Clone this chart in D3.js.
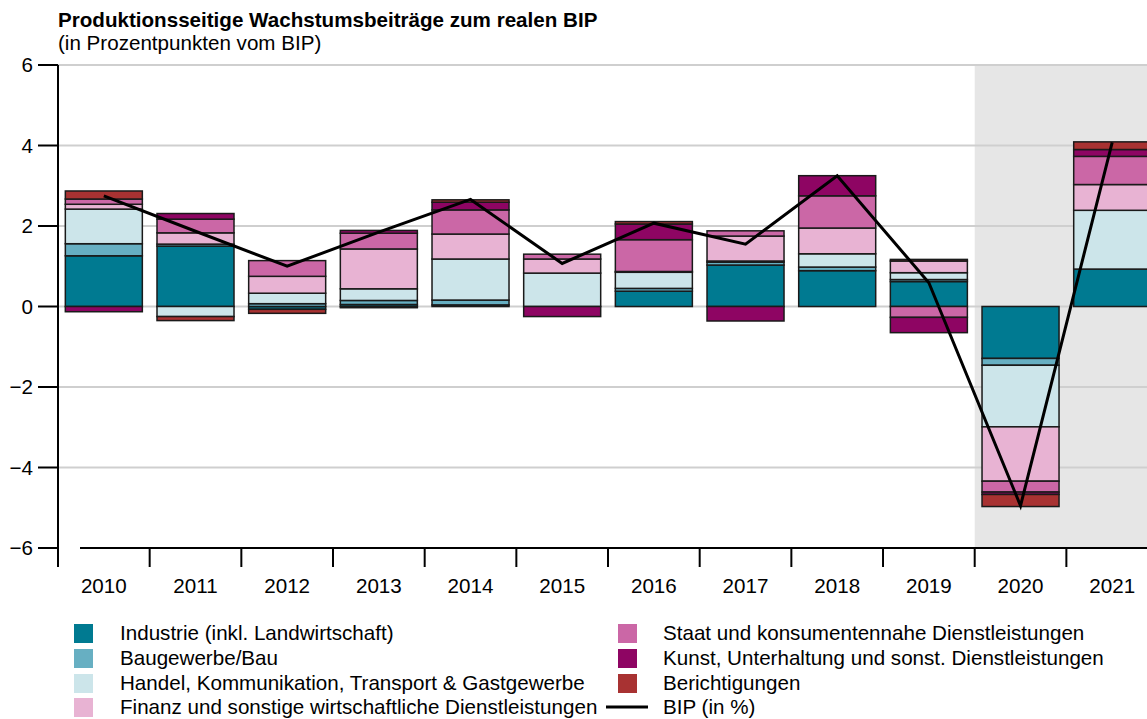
<!DOCTYPE html>
<html>
<head>
<meta charset="utf-8">
<script src="https://cdn.jsdelivr.net/npm/d3@7"></script>
<style>
  body { margin: 0; background: #fff; }
  svg { display: block; font-family: "Liberation Sans", Arial, sans-serif; }
</style>
</head>
<body>
<svg id="chart" width="1147" height="719"></svg>
<script>
const years = ["2010", "2011", "2012", "2013", "2014", "2015", "2016", "2017", "2018", "2019", "2020", "2021"];

const industrie = [1.26, 1.50, -0.07, 0.05, 0.04, 0.00, 0.38, 1.03, 0.89, 0.62, -1.29, 0.93];
const bau       = [0.30, 0.05, 0.07, 0.10, 0.12, 0.00, 0.07, 0.07, 0.09, 0.05, -0.17, 0.00];
const handel    = [0.86, -0.25, 0.26, 0.29, 1.02, 0.83, 0.40, 0.03, 0.33, 0.17, -1.53, 1.46];
const finanz    = [0.12, 0.28, 0.42, 0.99, 0.62, 0.35, 0.02, 0.62, 0.64, 0.29, -1.35, 0.64];
const staat     = [0.13, 0.34, 0.39, 0.39, 0.60, 0.12, 0.79, 0.13, 0.80, -0.27, -0.27, 0.70];
const kunst     = [-0.13, 0.14, 0.00, 0.07, 0.19, -0.25, 0.39, -0.36, 0.50, -0.38, -0.06, 0.17];
const bericht   = [0.20, -0.10, -0.10, -0.03, 0.06, 0.00, 0.06, 0.00, 0.00, 0.04, -0.30, 0.19];
const bip       = [2.75, 1.87, 1.00, 1.85, 2.66, 1.07, 2.07, 1.55, 3.25, 0.59, -4.95, 4.08];

const yTicks = [6, 4, 2, 0, -2, -4, -6];

const SERIES = [
  { key: "industrie", label: "Industrie (inkl. Landwirtschaft)", color: "#007A91", values: industrie },
  { key: "bau", label: "Baugewerbe/Bau", color: "#67AFC2", values: bau },
  { key: "handel", label: "Handel, Kommunikation, Transport & Gastgewerbe", color: "#CCE5EA", values: handel },
  { key: "finanz", label: "Finanz und sonstige wirtschaftliche Dienstleistungen", color: "#E8B3D3", values: finanz },
  { key: "staat", label: "Staat und konsumentennahe Dienstleistungen", color: "#CB67A6", values: staat },
  { key: "kunst", label: "Kunst, Unterhaltung und sonst. Dienstleistungen", color: "#8E0563", values: kunst },
  { key: "bericht", label: "Berichtigungen", color: "#A83232", values: bericht }
];

const FS = 20.6;

// table for d3.stack
const table = years.map((yr, i) => {
  const row = { year: yr };
  SERIES.forEach(s => { row[s.key] = s.values[i]; });
  return row;
});

const svg = d3.select("#chart");
const plotLeft = 58, plotTop = 65, plotBottom = 548;
const step = 91.67;

const x = d3.scaleBand()
  .domain(years)
  .range([plotLeft, plotLeft + years.length * step])
  .paddingInner(0.16)
  .paddingOuter(0.08);

const y = d3.scaleLinear().domain([-6, 6]).range([plotBottom, plotTop]);

// linker Rand eines Bandes (Mitte der Lücke)
const bandStart = d => x(d) - x.step() * x.paddingInner() / 2;

// title
svg.append("text").attr("x", 58).attr("y", 27)
  .attr("font-size", FS).attr("font-weight", "bold")
  .text("Produktionsseitige Wachstumsbeiträge zum realen BIP");
svg.append("text").attr("x", 58).attr("y", 50)
  .attr("font-size", FS)
  .text("(in Prozentpunkten vom BIP)");

// Prognose-Bereich grau
svg.append("rect")
  .attr("x", bandStart("2020"))
  .attr("y", plotTop)
  .attr("width", 1147 - bandStart("2020"))
  .attr("height", plotBottom - plotTop)
  .attr("fill", "#E6E6E6");

// gridlines
svg.append("g").selectAll("line")
  .data(yTicks.filter(t => t !== -6))
  .join("line")
  .attr("x1", plotLeft).attr("x2", 1147)
  .attr("y1", d => y(d)).attr("y2", d => y(d))
  .attr("stroke", "#CFCFCF").attr("stroke-width", 2);

// stacked bars
const stack = d3.stack()
  .keys(SERIES.map(s => s.key))
  .offset(d3.stackOffsetDiverging);

const layers = stack(table);

svg.append("g").selectAll("g")
  .data(layers)
  .join("g")
  .attr("fill", (d, i) => SERIES[i].color)
  .selectAll("rect")
  .data(d => d.filter(p => p[1] !== p[0]))
  .join("rect")
  .attr("x", d => x(d.data.year))
  .attr("width", x.bandwidth())
  .attr("y", d => y(Math.max(d[0], d[1])))
  .attr("height", d => Math.abs(y(d[0]) - y(d[1])))
  .attr("stroke", "#1a1a1a")
  .attr("stroke-width", 1.5);

// BIP line
const line = d3.line()
  .x((d, i) => x(years[i]) + x.bandwidth() / 2)
  .y(d => y(d));

svg.append("path")
  .datum(bip)
  .attr("d", line)
  .attr("fill", "none")
  .attr("stroke", "#000")
  .attr("stroke-width", 3);

// y axis
const yAxis = svg.append("g");
yAxis.append("line")
  .attr("x1", plotLeft).attr("x2", plotLeft)
  .attr("y1", plotTop).attr("y2", plotBottom + 19)
  .attr("stroke", "#000").attr("stroke-width", 2);
yAxis.selectAll("line.tick")
  .data(yTicks)
  .join("line")
  .attr("class", "tick")
  .attr("x1", 38).attr("x2", plotLeft)
  .attr("y1", d => y(d)).attr("y2", d => y(d))
  .attr("stroke", "#000").attr("stroke-width", 2);
yAxis.selectAll("text")
  .data(yTicks)
  .join("text")
  .attr("x", 33).attr("y", d => y(d))
  .attr("dy", "0.35em")
  .attr("text-anchor", "end")
  .attr("font-size", FS)
  .text(d => d < 0 ? "\u2212" + Math.abs(d) : d);

// x axis
const xAxis = svg.append("g");
xAxis.append("line")
  .attr("x1", 80).attr("x2", 1147)
  .attr("y1", plotBottom).attr("y2", plotBottom)
  .attr("stroke", "#000").attr("stroke-width", 2);
xAxis.selectAll("line.tick")
  .data(years.slice(1))
  .join("line")
  .attr("class", "tick")
  .attr("x1", d => bandStart(d))
  .attr("x2", d => bandStart(d))
  .attr("y1", plotBottom).attr("y2", plotBottom + 19)
  .attr("stroke", "#000").attr("stroke-width", 2);
xAxis.selectAll("text")
  .data(years)
  .join("text")
  .attr("x", d => x(d) + x.bandwidth() / 2)
  .attr("y", 593)
  .attr("text-anchor", "middle")
  .attr("font-size", FS)
  .text(d => d);

// legend
const legend = svg.append("g");
const rowY = [633, 658, 683, 707];
const legendItems = SERIES.map((s, i) => ({ ...s, col: i < 4 ? 0 : 1, row: i < 4 ? i : i - 4 }));
legendItems.push({ label: "BIP (in %)", line: true, col: 1, row: 3 });
const colX = [[74, 120], [618, 663]];

legendItems.forEach(it => {
  const cy = rowY[it.row];
  const [sx, tx] = colX[it.col];
  if (it.line) {
    legend.append("line")
      .attr("x1", 606).attr("x2", 648)
      .attr("y1", cy).attr("y2", cy)
      .attr("stroke", "#000").attr("stroke-width", 3);
  } else {
    legend.append("rect")
      .attr("x", sx).attr("y", cy - 9)
      .attr("width", 19).attr("height", 19)
      .attr("fill", it.color);
  }
  legend.append("text")
    .attr("x", tx).attr("y", cy)
    .attr("dy", "0.35em")
    .attr("font-size", FS)
    .text(it.label);
});
</script>
</body>
</html>
